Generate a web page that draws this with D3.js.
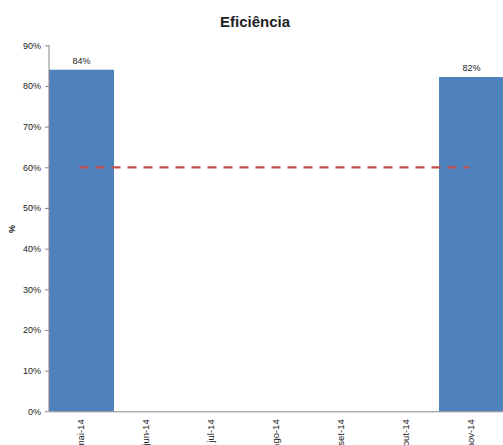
<!DOCTYPE html>
<html>
<head>
<meta charset="utf-8">
<script src="https://cdn.jsdelivr.net/npm/d3@7"></script>
<style>
  html, body { margin: 0; padding: 0; background: #fff; }
  svg { display: block; }
  text { font-family: "Liberation Sans", Arial, sans-serif; fill: #222; }
</style>
</head>
<body>
<svg id="chart" width="503" height="445"></svg>
<script>
// Monthly efficiency (%) and target
const months = ["mai-14", "jun-14", "jul-14", "ago-14", "set-14", "out-14", "nov-14"];
const efficiency = [84, null, null, null, null, null, 82.2];
const target = [60, 60, 60, 60, 60, 60, 60];
const yTicks = [0, 10, 20, 30, 40, 50, 60, 70, 80, 90];

const svg = d3.select("#chart");
const margin = { left: 49, top: 45.3, bottom: 445 - 411.3 };
const plotRight = 504;

const x = d3.scaleBand().domain(months).range([margin.left, plotRight]).paddingInner(0).paddingOuter(0);
const y = d3.scaleLinear().domain([0, 90]).range([445 - margin.bottom, margin.top]);

// Bars
const barData = months.map((m, i) => ({ m, v: efficiency[i] })).filter(d => d.v != null);
svg.append("g").selectAll("rect").data(barData).join("rect")
  .attr("x", d => x(d.m))
  .attr("y", d => y(d.v))
  .attr("width", x.bandwidth())
  .attr("height", d => y(0) - y(d.v))
  .attr("fill", "#4F81BD");

// Value labels
svg.append("g").selectAll("text").data(barData).join("text")
  .attr("x", d => x(d.m) + x.bandwidth() / 2)
  .attr("y", d => y(d.v) - 6)
  .attr("text-anchor", "middle")
  .attr("font-size", 9)
  .text(d => Math.round(d.v) + "%");

// Target line
const line = d3.line()
  .x((d, i) => x(months[i]) + x.bandwidth() / 2)
  .y(d => y(d));
svg.append("path")
  .datum(target)
  .attr("d", line)
  .attr("fill", "none")
  .attr("stroke", "#C0504D")
  .attr("stroke-width", 2.2)
  .attr("stroke-dasharray", "9,7")
  .attr("transform", "translate(-2,0)");

// Y axis
const yAxis = svg.append("g")
  .attr("transform", `translate(${margin.left},0)`)
  .call(d3.axisLeft(y).tickValues(yTicks).tickSize(4).tickFormat(d => d + "%"));
yAxis.selectAll("path, line").attr("stroke", "#868686");
yAxis.select(".domain").attr("d", `M0,${y(0)}V${y(90)}`);
yAxis.selectAll("text").attr("font-size", 9).attr("fill", "#222")
  .attr("font-family", "Liberation Sans, Arial, sans-serif").attr("dx", -1);

// X axis
const xAxis = svg.append("g")
  .attr("transform", `translate(0,${y(0)})`)
  .call(d3.axisBottom(x).tickSize(0));
xAxis.select(".domain").attr("stroke", "#868686");
xAxis.selectAll("text")
  .attr("font-size", 9.5)
  .attr("fill", "#222")
  .attr("font-family", "Liberation Sans, Arial, sans-serif")
  .attr("text-anchor", "end")
  .attr("transform", "rotate(-90)")
  .attr("x", -8)
  .attr("y", -1)
  .attr("dy", "0.35em");

// Axis title
svg.append("text")
  .attr("transform", `translate(15,229) rotate(-90)`)
  .attr("text-anchor", "middle")
  .attr("font-size", 9)
  .attr("font-weight", "bold")
  .text("%");

// Chart title
svg.append("text")
  .attr("x", 255)
  .attr("y", 27)
  .attr("text-anchor", "middle")
  .attr("font-size", 15)
  .attr("font-weight", "bold")
  .attr("fill", "#000")
  .text("Eficiência");
</script>
</body>
</html>
